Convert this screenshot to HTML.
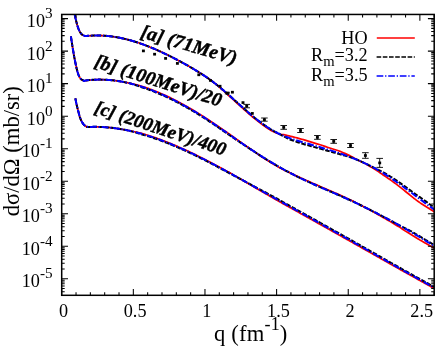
<!DOCTYPE html>
<html><head><meta charset="utf-8"><title>chart</title>
<style>html,body{margin:0;padding:0;background:#fff;}svg{display:block;will-change:transform;}text{font-family:"Liberation Serif",serif;fill:#000;}</style></head><body>
<svg width="443" height="354" viewBox="0 0 443 354">
<rect x="0" y="0" width="443" height="354" fill="#ffffff"/>
<defs><clipPath id="pc"><rect x="61.7" y="14.45" width="372.5" height="280.85"/></clipPath></defs>
<g clip-path="url(#pc)" fill="none" stroke-linejoin="round">
<path d="M74.70 14.00 L74.83 14.76 L74.96 15.51 L75.11 16.27 L75.26 17.03 L75.42 17.78 L75.58 18.54 L75.75 19.30 L75.93 20.06 L76.11 20.81 L76.29 21.57 L76.48 22.33 L76.68 23.08 L76.89 23.84 L77.10 24.60 L77.33 25.35 L77.57 26.11 L77.82 26.87 L78.08 27.62 L78.35 28.38 L78.64 29.14 L78.95 29.89 L79.30 30.65 L79.68 31.41 L80.11 32.17 L80.57 32.92 L81.12 33.68 L81.84 34.44 L82.91 35.19 L84.90 35.95 L86.49 36.02 L88.09 35.87 L89.68 35.74 L91.28 35.64 L92.87 35.56 L94.47 35.51 L96.06 35.48 L97.66 35.48 L99.25 35.50 L100.85 35.54 L102.44 35.61 L104.04 35.70 L105.63 35.82 L107.23 35.96 L108.82 36.12 L110.42 36.30 L112.01 36.51 L113.61 36.73 L115.20 36.98 L116.80 37.25 L118.39 37.54 L119.99 37.85 L121.58 38.18 L123.18 38.53 L124.77 38.90 L126.37 39.28 L127.96 39.69 L129.56 40.12 L131.15 40.56 L132.75 41.02 L134.34 41.50 L135.94 42.00 L137.53 42.51 L139.13 43.04 L140.72 43.59 L142.32 44.15 L143.91 44.73 L145.51 45.32 L147.10 45.93 L148.70 46.56 L150.29 47.20 L151.89 47.85 L153.48 48.52 L155.08 49.20 L156.67 49.89 L158.27 50.60 L159.86 51.32 L161.46 52.05 L163.05 52.80 L164.65 53.55 L166.24 54.32 L167.84 55.10 L169.43 55.89 L171.03 56.69 L172.62 57.50 L174.22 58.32 L175.81 59.15 L177.41 59.99 L179.00 60.84 L180.60 61.70 L182.19 62.57 L183.79 63.44 L185.38 64.32 L186.98 65.21 L188.57 66.11 L190.17 67.02 L191.76 67.94 L193.36 68.88 L194.95 69.83 L196.55 70.79 L198.14 71.77 L199.74 72.77 L201.33 73.78 L202.93 74.82 L204.52 75.87 L206.12 76.95 L207.71 78.05 L209.31 79.18 L210.90 80.33 L212.50 81.51 L214.09 82.72 L215.69 83.98 L217.28 85.32 L218.88 86.69 L220.47 88.08 L222.07 89.49 L223.66 90.92 L225.26 92.37 L226.85 93.83 L228.45 95.31 L230.04 96.80 L231.64 98.24 L233.23 99.68 L234.83 101.13 L236.42 102.58 L238.02 104.03 L239.61 105.48 L241.21 106.92 L242.80 108.36 L244.40 109.79 L245.99 111.21 L247.59 112.61 L249.18 114.00 L250.78 115.38 L252.37 116.73 L253.97 118.06 L255.56 119.36 L257.16 120.65 L258.75 121.90 L260.35 123.13 L261.94 124.33 L263.54 125.49 L265.13 126.63 L266.73 127.71 L268.32 128.77 L269.92 129.78 L271.51 130.70 L273.11 131.46 L274.70 132.18 L276.30 132.86 L277.89 133.49 L279.49 134.08 L281.08 134.36 L282.68 134.49 L284.27 134.71 L285.87 135.12 L287.46 135.51 L289.06 135.87 L290.65 136.26 L292.25 136.69 L293.84 137.11 L295.44 137.51 L297.03 137.93 L298.63 138.37 L300.22 138.81 L301.82 139.23 L303.41 139.69 L305.01 140.17 L306.60 140.64 L308.20 141.10 L309.79 141.60 L311.39 142.12 L312.98 142.63 L314.58 143.14 L316.17 143.61 L317.77 144.08 L319.36 144.54 L320.96 145.00 L322.55 145.54 L324.15 146.08 L325.74 146.64 L327.34 147.19 L328.93 147.70 L330.53 148.22 L332.12 148.73 L333.72 149.26 L335.31 149.77 L336.91 150.28 L338.50 150.81 L340.10 151.35 L341.69 152.02 L343.29 152.70 L344.88 153.39 L346.48 154.10 L348.07 154.87 L349.67 155.64 L351.26 156.43 L352.86 157.27 L354.45 158.19 L356.05 159.13 L357.64 160.03 L359.24 160.75 L360.83 161.49 L362.43 162.24 L364.02 163.02 L365.62 163.86 L367.21 164.78 L368.81 165.71 L370.40 166.66 L372.00 167.63 L373.59 168.60 L375.19 169.59 L376.78 170.61 L378.38 171.66 L379.97 172.75 L381.57 173.85 L383.16 174.98 L384.76 176.05 L386.35 177.11 L387.95 178.19 L389.54 179.29 L391.14 180.42 L392.73 181.57 L394.33 182.74 L395.92 183.92 L397.52 185.16 L399.11 186.41 L400.71 187.68 L402.30 188.95 L403.90 190.20 L405.49 191.47 L407.09 192.74 L408.68 194.02 L410.28 195.34 L411.87 196.67 L413.47 197.96 L415.06 199.15 L416.66 200.34 L418.25 201.53 L419.85 202.65 L421.44 203.68 L423.04 204.72 L424.63 205.75 L426.23 206.77 L427.82 207.80 L429.42 208.82 L431.01 209.83 L432.61 210.81 L434.20 211.77" stroke="#ff0000" stroke-width="1.7"/>
<path d="M74.70 14.00 L74.83 14.76 L74.96 15.51 L75.11 16.27 L75.26 17.03 L75.42 17.78 L75.58 18.54 L75.75 19.30 L75.93 20.06 L76.11 20.81 L76.29 21.57 L76.48 22.33 L76.68 23.08 L76.89 23.84 L77.10 24.60 L77.33 25.35 L77.57 26.11 L77.82 26.87 L78.08 27.62 L78.35 28.38 L78.64 29.14 L78.95 29.89 L79.30 30.65 L79.68 31.41 L80.11 32.17 L80.57 32.92 L81.12 33.68 L81.84 34.44 L82.91 35.19 L84.90 35.95 L86.49 36.02 L88.09 35.87 L89.68 35.74 L91.28 35.64 L92.87 35.56 L94.47 35.51 L96.06 35.48 L97.66 35.48 L99.25 35.50 L100.85 35.54 L102.44 35.61 L104.04 35.70 L105.63 35.82 L107.23 35.96 L108.82 36.12 L110.42 36.30 L112.01 36.51 L113.61 36.73 L115.20 36.98 L116.80 37.25 L118.39 37.54 L119.99 37.85 L121.58 38.18 L123.18 38.53 L124.77 38.90 L126.37 39.28 L127.96 39.69 L129.56 40.12 L131.15 40.56 L132.75 41.02 L134.34 41.50 L135.94 42.00 L137.53 42.51 L139.13 43.04 L140.72 43.59 L142.32 44.15 L143.91 44.73 L145.51 45.32 L147.10 45.93 L148.70 46.56 L150.29 47.20 L151.89 47.85 L153.48 48.52 L155.08 49.20 L156.67 49.89 L158.27 50.60 L159.86 51.32 L161.46 52.05 L163.05 52.80 L164.65 53.55 L166.24 54.32 L167.84 55.10 L169.43 55.89 L171.03 56.69 L172.62 57.50 L174.22 58.32 L175.81 59.15 L177.41 59.99 L179.00 60.84 L180.60 61.70 L182.19 62.57 L183.79 63.44 L185.38 64.32 L186.98 65.21 L188.57 66.11 L190.17 67.02 L191.76 67.94 L193.36 68.88 L194.95 69.83 L196.55 70.79 L198.14 71.77 L199.74 72.77 L201.33 73.78 L202.93 74.82 L204.52 75.87 L206.12 76.95 L207.71 78.05 L209.31 79.18 L210.90 80.33 L212.50 81.51 L214.09 82.72 L215.69 83.95 L217.28 85.21 L218.88 86.51 L220.47 87.82 L222.07 89.16 L223.66 90.51 L225.26 91.89 L226.85 93.28 L228.45 94.68 L230.04 96.10 L231.64 97.52 L233.23 98.95 L234.83 100.39 L236.42 101.82 L238.02 103.26 L239.61 104.70 L241.21 106.13 L242.80 107.55 L244.40 108.97 L245.99 110.37 L247.59 111.76 L249.18 113.14 L250.78 114.50 L252.37 115.84 L253.97 117.15 L255.56 118.45 L257.16 119.71 L258.75 120.96 L260.35 122.17 L261.94 123.35 L263.54 124.51 L265.13 125.63 L266.73 126.71 L268.32 127.77 L269.92 128.78 L271.51 129.76 L273.11 130.70 L274.70 131.59 L276.30 132.44 L277.89 133.25 L279.49 134.02 L281.08 134.88 L282.68 135.78 L284.27 136.64 L285.87 137.47 L287.46 138.28 L289.06 139.05 L290.65 139.73 L292.25 140.30 L293.84 140.86 L295.44 141.40 L297.03 141.93 L298.63 142.46 L300.22 142.99 L301.82 143.51 L303.41 143.99 L305.01 144.45 L306.60 144.90 L308.20 145.36 L309.79 145.81 L311.39 146.26 L312.98 146.71 L314.58 147.15 L316.17 147.59 L317.77 148.03 L319.36 148.47 L320.96 148.91 L322.55 149.35 L324.15 149.79 L325.74 150.24 L327.34 150.70 L328.93 151.13 L330.53 151.57 L332.12 152.01 L333.72 152.46 L335.31 152.91 L336.91 153.38 L338.50 153.85 L340.10 154.32 L341.69 154.75 L343.29 155.18 L344.88 155.63 L346.48 156.08 L348.07 156.55 L349.67 157.03 L351.26 157.52 L352.86 158.07 L354.45 158.71 L356.05 159.35 L357.64 160.02 L359.24 160.70 L360.83 161.39 L362.43 162.11 L364.02 162.84 L365.62 163.58 L367.21 164.35 L368.81 165.13 L370.40 165.94 L372.00 166.76 L373.59 167.61 L375.19 168.46 L376.78 169.20 L378.38 169.96 L379.97 170.74 L381.57 171.55 L383.16 172.38 L384.76 173.25 L386.35 174.16 L387.95 175.08 L389.54 176.03 L391.14 177.00 L392.73 178.00 L394.33 179.01 L395.92 180.04 L397.52 181.14 L399.11 182.27 L400.71 183.40 L402.30 184.55 L403.90 185.70 L405.49 186.86 L407.09 188.03 L408.68 189.21 L410.28 190.39 L411.87 191.57 L413.47 192.76 L415.06 193.93 L416.66 195.01 L418.25 196.09 L419.85 197.18 L421.44 198.30 L423.04 199.41 L424.63 200.51 L426.23 201.67 L427.82 202.86 L429.42 204.05 L431.01 205.23 L432.61 206.40 L434.20 207.57" stroke="#000000" stroke-width="2.0" stroke-dasharray="4.6 1.6"/>
<path d="M74.70 14.00 L74.83 14.76 L74.96 15.51 L75.11 16.27 L75.26 17.03 L75.42 17.78 L75.58 18.54 L75.75 19.30 L75.93 20.06 L76.11 20.81 L76.29 21.57 L76.48 22.33 L76.68 23.08 L76.89 23.84 L77.10 24.60 L77.33 25.35 L77.57 26.11 L77.82 26.87 L78.08 27.62 L78.35 28.38 L78.64 29.14 L78.95 29.89 L79.30 30.65 L79.68 31.41 L80.11 32.17 L80.57 32.92 L81.12 33.68 L81.84 34.44 L82.91 35.19 L84.90 35.95 L86.49 36.02 L88.09 35.87 L89.68 35.74 L91.28 35.64 L92.87 35.56 L94.47 35.51 L96.06 35.48 L97.66 35.48 L99.25 35.50 L100.85 35.54 L102.44 35.61 L104.04 35.70 L105.63 35.82 L107.23 35.96 L108.82 36.12 L110.42 36.30 L112.01 36.51 L113.61 36.73 L115.20 36.98 L116.80 37.25 L118.39 37.54 L119.99 37.85 L121.58 38.18 L123.18 38.53 L124.77 38.90 L126.37 39.28 L127.96 39.69 L129.56 40.12 L131.15 40.56 L132.75 41.02 L134.34 41.50 L135.94 42.00 L137.53 42.51 L139.13 43.04 L140.72 43.59 L142.32 44.15 L143.91 44.73 L145.51 45.32 L147.10 45.93 L148.70 46.56 L150.29 47.20 L151.89 47.85 L153.48 48.52 L155.08 49.20 L156.67 49.89 L158.27 50.60 L159.86 51.32 L161.46 52.05 L163.05 52.80 L164.65 53.55 L166.24 54.32 L167.84 55.10 L169.43 55.89 L171.03 56.69 L172.62 57.50 L174.22 58.32 L175.81 59.15 L177.41 59.99 L179.00 60.84 L180.60 61.70 L182.19 62.57 L183.79 63.44 L185.38 64.32 L186.98 65.21 L188.57 66.11 L190.17 67.02 L191.76 67.94 L193.36 68.88 L194.95 69.83 L196.55 70.79 L198.14 71.77 L199.74 72.77 L201.33 73.78 L202.93 74.82 L204.52 75.87 L206.12 76.95 L207.71 78.05 L209.31 79.18 L210.90 80.33 L212.50 81.51 L214.09 82.72 L215.69 83.95 L217.28 85.21 L218.88 86.51 L220.47 87.82 L222.07 89.16 L223.66 90.51 L225.26 91.89 L226.85 93.28 L228.45 94.68 L230.04 96.10 L231.64 97.52 L233.23 98.95 L234.83 100.39 L236.42 101.82 L238.02 103.26 L239.61 104.70 L241.21 106.13 L242.80 107.55 L244.40 108.97 L245.99 110.37 L247.59 111.76 L249.18 113.14 L250.78 114.50 L252.37 115.84 L253.97 117.15 L255.56 118.45 L257.16 119.71 L258.75 120.96 L260.35 122.17 L261.94 123.35 L263.54 124.51 L265.13 125.63 L266.73 126.71 L268.32 127.77 L269.92 128.78 L271.51 129.76 L273.11 130.70 L274.70 131.59 L276.30 132.44 L277.89 133.25 L279.49 134.02 L281.08 134.74 L282.68 135.43 L284.27 136.08 L285.87 136.70 L287.46 137.30 L289.06 137.86 L290.65 138.41 L292.25 138.94 L293.84 139.46 L295.44 139.96 L297.03 140.46 L298.63 140.95 L300.22 141.44 L301.82 141.92 L303.41 142.39 L305.01 142.87 L306.60 143.34 L308.20 143.80 L309.79 144.27 L311.39 144.73 L312.98 145.19 L314.58 145.65 L316.17 146.11 L317.77 146.58 L319.36 147.04 L320.96 147.50 L322.55 147.97 L324.15 148.44 L325.74 148.92 L327.34 149.39 L328.93 149.88 L330.53 150.37 L332.12 150.86 L333.72 151.36 L335.31 151.87 L336.91 152.38 L338.50 152.91 L340.10 153.44 L341.69 153.98 L343.29 154.53 L344.88 155.09 L346.48 155.66 L348.07 156.25 L349.67 156.84 L351.26 157.45 L352.86 158.07 L354.45 158.71 L356.05 159.35 L357.64 160.02 L359.24 160.70 L360.83 161.39 L362.43 162.11 L364.02 162.84 L365.62 163.58 L367.21 164.35 L368.81 165.13 L370.40 165.94 L372.00 166.76 L373.59 167.61 L375.19 168.47 L376.78 169.36 L378.38 170.27 L379.97 171.20 L381.57 172.15 L383.16 173.13 L384.76 174.12 L386.35 175.13 L387.95 176.16 L389.54 177.20 L391.14 178.26 L392.73 179.34 L394.33 180.43 L395.92 181.53 L397.52 182.64 L399.11 183.77 L400.71 184.90 L402.30 186.05 L403.90 187.20 L405.49 188.36 L407.09 189.53 L408.68 190.71 L410.28 191.89 L411.87 193.07 L413.47 194.26 L415.06 195.45 L416.66 196.64 L418.25 197.83 L419.85 199.02 L421.44 200.21 L423.04 201.40 L424.63 202.58 L426.23 203.76 L427.82 204.94 L429.42 206.11 L431.01 207.27 L432.61 208.43 L434.20 209.58" stroke="#0000ff" stroke-width="2.0" stroke-dasharray="6.7 1.8 1.3 1.8"/>
<path d="M70.90 36.30 L71.13 37.84 L71.36 39.38 L71.59 40.92 L71.83 42.47 L72.07 44.01 L72.31 45.55 L72.56 47.09 L72.81 48.63 L73.07 50.17 L73.32 51.71 L73.59 53.26 L73.85 54.80 L74.13 56.34 L74.42 57.88 L74.72 59.42 L75.03 60.96 L75.34 62.50 L75.67 64.04 L76.01 65.59 L76.34 67.13 L76.69 68.67 L77.06 70.21 L77.49 71.75 L77.96 73.29 L78.51 74.83 L79.19 76.38 L80.01 77.92 L81.25 79.46 L84.20 81.00 L85.80 80.48 L87.40 80.29 L88.99 80.12 L90.59 79.98 L92.19 79.86 L93.79 79.76 L95.39 79.69 L96.99 79.64 L98.58 79.61 L100.18 79.61 L101.78 79.63 L103.38 79.67 L104.98 79.73 L106.57 79.81 L108.17 79.92 L109.77 80.05 L111.37 80.19 L112.97 80.36 L114.57 80.55 L116.16 80.76 L117.76 80.99 L119.36 81.24 L120.96 81.51 L122.56 81.80 L124.15 82.11 L125.75 82.43 L127.35 82.78 L128.95 83.15 L130.55 83.50 L132.15 83.82 L133.74 84.16 L135.34 84.52 L136.94 84.89 L138.54 85.28 L140.14 85.70 L141.73 86.20 L143.33 86.72 L144.93 87.26 L146.53 87.81 L148.13 88.38 L149.73 88.96 L151.32 89.56 L152.92 90.18 L154.52 90.81 L156.12 91.45 L157.72 92.11 L159.31 92.78 L160.91 93.47 L162.51 94.17 L164.11 94.89 L165.71 95.61 L167.31 96.36 L168.90 97.11 L170.50 97.88 L172.10 98.67 L173.70 99.46 L175.30 100.27 L176.89 101.09 L178.49 101.93 L180.09 102.78 L181.69 103.64 L183.29 104.51 L184.88 105.40 L186.48 106.29 L188.08 107.20 L189.68 108.13 L191.28 109.06 L192.88 110.00 L194.47 110.96 L196.07 111.93 L197.67 112.91 L199.27 113.90 L200.87 114.90 L202.46 115.91 L204.06 116.94 L205.66 117.97 L207.26 119.01 L208.86 120.07 L210.46 121.13 L212.05 122.20 L213.65 123.27 L215.25 124.35 L216.85 125.44 L218.45 126.53 L220.04 127.63 L221.64 128.73 L223.24 129.84 L224.84 130.94 L226.44 132.05 L228.04 133.17 L229.63 134.28 L231.23 135.42 L232.83 136.56 L234.43 137.71 L236.03 138.85 L237.62 139.99 L239.22 141.13 L240.82 142.26 L242.42 143.39 L244.02 144.52 L245.62 145.64 L247.21 146.76 L248.81 147.87 L250.41 148.97 L252.01 150.07 L253.61 151.16 L255.20 152.24 L256.80 153.37 L258.40 154.48 L260.00 155.58 L261.60 156.68 L263.20 157.77 L264.79 158.85 L266.39 159.85 L267.99 160.83 L269.59 161.81 L271.19 162.77 L272.78 163.73 L274.38 164.67 L275.98 165.61 L277.58 166.53 L279.18 167.45 L280.78 168.32 L282.37 169.14 L283.97 169.94 L285.57 170.74 L287.17 171.52 L288.77 172.30 L290.36 173.07 L291.96 173.85 L293.56 174.63 L295.16 175.39 L296.76 176.14 L298.36 176.88 L299.95 177.61 L301.55 178.33 L303.15 179.04 L304.75 179.74 L306.35 180.43 L307.94 181.12 L309.54 181.80 L311.14 182.50 L312.74 183.22 L314.34 183.93 L315.94 184.63 L317.53 185.33 L319.13 186.03 L320.73 186.72 L322.33 187.42 L323.93 188.11 L325.52 188.80 L327.12 189.48 L328.72 190.17 L330.32 190.86 L331.92 191.55 L333.52 192.24 L335.11 192.94 L336.71 193.63 L338.31 194.33 L339.91 195.04 L341.51 195.74 L343.10 196.46 L344.70 197.18 L346.30 197.94 L347.90 198.71 L349.50 199.50 L351.09 200.28 L352.69 201.08 L354.29 201.87 L355.89 202.68 L357.49 203.48 L359.09 204.30 L360.68 205.11 L362.28 205.94 L363.88 206.76 L365.48 207.61 L367.08 208.47 L368.67 209.34 L370.27 210.22 L371.87 211.10 L373.47 211.99 L375.07 212.88 L376.67 213.78 L378.26 214.68 L379.86 215.59 L381.46 216.50 L383.06 217.42 L384.66 218.34 L386.25 219.26 L387.85 220.20 L389.45 221.13 L391.05 222.08 L392.65 223.02 L394.25 223.98 L395.84 224.94 L397.44 225.90 L399.04 226.87 L400.64 227.89 L402.24 228.98 L403.83 230.07 L405.43 231.13 L407.03 232.09 L408.63 233.06 L410.23 234.02 L411.83 235.00 L413.42 235.97 L415.02 236.95 L416.62 237.93 L418.22 238.91 L419.82 239.90 L421.41 240.83 L423.01 241.75 L424.61 242.67 L426.21 243.60 L427.81 244.53 L429.41 245.41 L431.00 246.28 L432.60 247.15 L434.20 248.03" stroke="#ff0000" stroke-width="1.7"/>
<path d="M70.90 36.30 L71.13 37.84 L71.36 39.38 L71.59 40.92 L71.83 42.47 L72.07 44.01 L72.31 45.55 L72.56 47.09 L72.81 48.63 L73.07 50.17 L73.32 51.71 L73.59 53.26 L73.85 54.80 L74.13 56.34 L74.42 57.88 L74.72 59.42 L75.03 60.96 L75.34 62.50 L75.67 64.04 L76.01 65.59 L76.34 67.13 L76.69 68.67 L77.06 70.21 L77.49 71.75 L77.96 73.29 L78.51 74.83 L79.19 76.38 L80.01 77.92 L81.25 79.46 L84.20 81.00 L85.80 80.48 L87.40 80.29 L88.99 80.12 L90.59 79.98 L92.19 79.86 L93.79 79.76 L95.39 79.69 L96.99 79.64 L98.58 79.61 L100.18 79.61 L101.78 79.63 L103.38 79.67 L104.98 79.73 L106.57 79.81 L108.17 79.92 L109.77 80.05 L111.37 80.19 L112.97 80.36 L114.57 80.55 L116.16 80.76 L117.76 80.99 L119.36 81.24 L120.96 81.51 L122.56 81.80 L124.15 82.11 L125.75 82.43 L127.35 82.78 L128.95 83.15 L130.55 83.56 L132.15 84.04 L133.74 84.53 L135.34 85.05 L136.94 85.58 L138.54 86.13 L140.14 86.70 L141.73 87.20 L143.33 87.72 L144.93 88.26 L146.53 88.81 L148.13 89.38 L149.73 89.96 L151.32 90.56 L152.92 91.18 L154.52 91.81 L156.12 92.45 L157.72 93.11 L159.31 93.78 L160.91 94.47 L162.51 95.17 L164.11 95.89 L165.71 96.61 L167.31 97.36 L168.90 98.11 L170.50 98.88 L172.10 99.67 L173.70 100.46 L175.30 101.27 L176.89 102.09 L178.49 102.93 L180.09 103.78 L181.69 104.64 L183.29 105.51 L184.88 106.40 L186.48 107.29 L188.08 108.20 L189.68 109.13 L191.28 110.06 L192.88 111.00 L194.47 111.96 L196.07 112.93 L197.67 113.91 L199.27 114.90 L200.87 115.90 L202.46 116.91 L204.06 117.94 L205.66 118.97 L207.26 120.01 L208.86 121.07 L210.46 122.13 L212.05 123.20 L213.65 124.27 L215.25 125.35 L216.85 126.44 L218.45 127.53 L220.04 128.63 L221.64 129.73 L223.24 130.84 L224.84 131.94 L226.44 133.05 L228.04 134.17 L229.63 135.28 L231.23 136.37 L232.83 137.45 L234.43 138.53 L236.03 139.61 L237.62 140.68 L239.22 141.76 L240.82 142.83 L242.42 143.90 L244.02 144.96 L245.62 146.02 L247.21 147.07 L248.81 148.12 L250.41 149.16 L252.01 150.19 L253.61 151.21 L255.20 152.23 L256.80 153.28 L258.40 154.31 L260.00 155.33 L261.60 156.35 L263.20 157.36 L264.79 158.36 L266.39 159.35 L267.99 160.33 L269.59 161.31 L271.19 162.27 L272.78 163.23 L274.38 164.17 L275.98 165.11 L277.58 166.03 L279.18 166.95 L280.78 167.86 L282.37 168.75 L283.97 169.64 L285.57 170.52 L287.17 171.38 L288.77 172.24 L290.36 173.08 L291.96 173.91 L293.56 174.73 L295.16 175.54 L296.76 176.34 L298.36 177.13 L299.95 177.90 L301.55 178.67 L303.15 179.43 L304.75 180.18 L306.35 180.92 L307.94 181.65 L309.54 182.38 L311.14 183.10 L312.74 183.82 L314.34 184.53 L315.94 185.23 L317.53 185.93 L319.13 186.63 L320.73 187.32 L322.33 188.02 L323.93 188.71 L325.52 189.40 L327.12 190.08 L328.72 190.77 L330.32 191.46 L331.92 192.15 L333.52 192.84 L335.11 193.54 L336.71 194.23 L338.31 194.93 L339.91 195.64 L341.51 196.34 L343.10 197.06 L344.70 197.78 L346.30 198.50 L347.90 199.23 L349.50 199.96 L351.09 200.70 L352.69 201.44 L354.29 202.19 L355.89 202.95 L357.49 203.71 L359.09 204.47 L360.68 205.24 L362.28 206.02 L363.88 206.80 L365.48 207.58 L367.08 208.37 L368.67 209.17 L370.27 209.97 L371.87 210.77 L373.47 211.58 L375.07 212.40 L376.67 213.22 L378.26 214.04 L379.86 214.87 L381.46 215.71 L383.06 216.55 L384.66 217.39 L386.25 218.24 L387.85 219.10 L389.45 219.96 L391.05 220.82 L392.65 221.69 L394.25 222.57 L395.84 223.45 L397.44 224.33 L399.04 225.22 L400.64 226.06 L402.24 226.83 L403.83 227.61 L405.43 228.39 L407.03 229.17 L408.63 229.96 L410.23 230.77 L411.83 231.70 L413.42 232.63 L415.02 233.57 L416.62 234.51 L418.22 235.46 L419.82 236.41 L421.41 237.36 L423.01 238.32 L424.61 239.29 L426.21 240.26 L427.81 241.23 L429.41 242.21 L431.00 243.19 L432.60 244.18 L434.20 245.17" stroke="#000000" stroke-width="2.0" stroke-dasharray="4.6 1.6"/>
<path d="M70.90 36.30 L71.13 37.84 L71.36 39.38 L71.59 40.92 L71.83 42.47 L72.07 44.01 L72.31 45.55 L72.56 47.09 L72.81 48.63 L73.07 50.17 L73.32 51.71 L73.59 53.26 L73.85 54.80 L74.13 56.34 L74.42 57.88 L74.72 59.42 L75.03 60.96 L75.34 62.50 L75.67 64.04 L76.01 65.59 L76.34 67.13 L76.69 68.67 L77.06 70.21 L77.49 71.75 L77.96 73.29 L78.51 74.83 L79.19 76.38 L80.01 77.92 L81.25 79.46 L84.20 81.00 L85.80 80.48 L87.40 80.29 L88.99 80.12 L90.59 79.98 L92.19 79.86 L93.79 79.76 L95.39 79.69 L96.99 79.64 L98.58 79.61 L100.18 79.61 L101.78 79.63 L103.38 79.67 L104.98 79.73 L106.57 79.81 L108.17 79.92 L109.77 80.05 L111.37 80.19 L112.97 80.36 L114.57 80.55 L116.16 80.76 L117.76 80.99 L119.36 81.24 L120.96 81.51 L122.56 81.80 L124.15 82.11 L125.75 82.43 L127.35 82.78 L128.95 83.15 L130.55 83.53 L132.15 83.93 L133.74 84.35 L135.34 84.78 L136.94 85.24 L138.54 85.71 L140.14 86.20 L141.73 86.70 L143.33 87.22 L144.93 87.76 L146.53 88.31 L148.13 88.88 L149.73 89.46 L151.32 90.06 L152.92 90.68 L154.52 91.31 L156.12 91.95 L157.72 92.61 L159.31 93.28 L160.91 93.97 L162.51 94.67 L164.11 95.39 L165.71 96.11 L167.31 96.86 L168.90 97.61 L170.50 98.38 L172.10 99.17 L173.70 99.96 L175.30 100.77 L176.89 101.59 L178.49 102.43 L180.09 103.28 L181.69 104.14 L183.29 105.01 L184.88 105.90 L186.48 106.79 L188.08 107.70 L189.68 108.63 L191.28 109.56 L192.88 110.50 L194.47 111.46 L196.07 112.43 L197.67 113.41 L199.27 114.40 L200.87 115.40 L202.46 116.41 L204.06 117.44 L205.66 118.47 L207.26 119.51 L208.86 120.57 L210.46 121.63 L212.05 122.70 L213.65 123.77 L215.25 124.85 L216.85 125.94 L218.45 127.03 L220.04 128.13 L221.64 129.23 L223.24 130.34 L224.84 131.44 L226.44 132.55 L228.04 133.67 L229.63 134.78 L231.23 135.89 L232.83 137.01 L234.43 138.12 L236.03 139.23 L237.62 140.34 L239.22 141.44 L240.82 142.55 L242.42 143.65 L244.02 144.74 L245.62 145.83 L247.21 146.92 L248.81 147.99 L250.41 149.07 L252.01 150.13 L253.61 151.19 L255.20 152.23 L256.80 153.28 L258.40 154.31 L260.00 155.33 L261.60 156.35 L263.20 157.36 L264.79 158.36 L266.39 159.35 L267.99 160.33 L269.59 161.31 L271.19 162.27 L272.78 163.23 L274.38 164.17 L275.98 165.11 L277.58 166.03 L279.18 166.95 L280.78 167.86 L282.37 168.75 L283.97 169.64 L285.57 170.52 L287.17 171.38 L288.77 172.24 L290.36 173.08 L291.96 173.91 L293.56 174.73 L295.16 175.54 L296.76 176.34 L298.36 177.13 L299.95 177.90 L301.55 178.67 L303.15 179.43 L304.75 180.18 L306.35 180.92 L307.94 181.65 L309.54 182.38 L311.14 183.10 L312.74 183.82 L314.34 184.53 L315.94 185.23 L317.53 185.93 L319.13 186.63 L320.73 187.32 L322.33 188.02 L323.93 188.71 L325.52 189.40 L327.12 190.08 L328.72 190.77 L330.32 191.46 L331.92 192.15 L333.52 192.84 L335.11 193.54 L336.71 194.23 L338.31 194.93 L339.91 195.64 L341.51 196.34 L343.10 197.06 L344.70 197.78 L346.30 198.50 L347.90 199.23 L349.50 199.96 L351.09 200.70 L352.69 201.44 L354.29 202.19 L355.89 202.95 L357.49 203.71 L359.09 204.47 L360.68 205.24 L362.28 206.02 L363.88 206.80 L365.48 207.58 L367.08 208.37 L368.67 209.17 L370.27 209.97 L371.87 210.77 L373.47 211.58 L375.07 212.40 L376.67 213.22 L378.26 214.04 L379.86 214.87 L381.46 215.71 L383.06 216.55 L384.66 217.39 L386.25 218.24 L387.85 219.10 L389.45 219.96 L391.05 220.82 L392.65 221.69 L394.25 222.57 L395.84 223.45 L397.44 224.33 L399.04 225.22 L400.64 226.11 L402.24 227.01 L403.83 227.91 L405.43 228.82 L407.03 229.73 L408.63 230.65 L410.23 231.57 L411.83 232.50 L413.42 233.43 L415.02 234.37 L416.62 235.31 L418.22 236.26 L419.82 237.21 L421.41 238.16 L423.01 239.12 L424.61 240.09 L426.21 241.06 L427.81 242.03 L429.41 243.01 L431.00 243.99 L432.60 244.98 L434.20 245.97" stroke="#0000ff" stroke-width="2.0" stroke-dasharray="6.7 1.8 1.3 1.8"/>
<path d="M75.40 98.40 L75.57 99.38 L75.75 100.36 L75.94 101.34 L76.13 102.32 L76.33 103.30 L76.54 104.28 L76.76 105.26 L76.99 106.23 L77.23 107.21 L77.48 108.19 L77.73 109.17 L77.99 110.15 L78.25 111.13 L78.51 112.11 L78.75 113.09 L78.99 114.07 L79.24 115.05 L79.51 116.03 L79.80 117.01 L80.14 117.99 L80.53 118.97 L80.97 119.94 L81.46 120.92 L81.99 121.90 L82.55 122.88 L83.17 123.86 L83.96 124.84 L85.09 125.82 L86.70 126.80 L88.29 127.02 L89.87 126.95 L91.46 126.90 L93.05 126.87 L94.63 126.86 L96.22 126.86 L97.81 126.88 L99.39 126.92 L100.98 126.98 L102.57 127.05 L104.15 127.15 L105.74 127.25 L107.33 127.38 L108.91 127.52 L110.50 127.68 L112.09 127.85 L113.67 128.04 L115.26 128.25 L116.85 128.47 L118.44 128.70 L120.02 128.96 L121.61 129.22 L123.20 129.50 L124.78 129.80 L126.37 130.11 L127.96 130.44 L129.54 130.78 L131.13 131.09 L132.72 131.39 L134.30 131.71 L135.89 132.04 L137.48 132.38 L139.06 132.74 L140.65 133.14 L142.24 133.59 L143.82 134.05 L145.41 134.52 L147.00 135.00 L148.58 135.50 L150.17 136.01 L151.76 136.53 L153.34 137.07 L154.93 137.61 L156.52 138.16 L158.10 138.73 L159.69 139.31 L161.28 139.89 L162.86 140.49 L164.45 141.10 L166.04 141.72 L167.62 142.34 L169.21 142.98 L170.80 143.63 L172.38 144.28 L173.97 144.95 L175.56 145.62 L177.15 146.31 L178.73 147.00 L180.32 147.70 L181.91 148.41 L183.49 149.12 L185.08 149.85 L186.67 150.58 L188.25 151.32 L189.84 152.07 L191.43 152.82 L193.01 153.58 L194.60 154.35 L196.19 155.13 L197.77 155.91 L199.36 156.69 L200.95 157.49 L202.53 158.29 L204.12 159.09 L205.71 159.90 L207.29 160.72 L208.88 161.54 L210.47 162.37 L212.05 163.20 L213.64 164.03 L215.23 164.88 L216.81 165.72 L218.40 166.57 L219.99 167.42 L221.57 168.28 L223.16 169.14 L224.75 170.00 L226.33 170.87 L227.92 171.74 L229.51 172.61 L231.09 173.52 L232.68 174.44 L234.27 175.37 L235.86 176.29 L237.44 177.23 L239.03 178.16 L240.62 179.09 L242.20 180.03 L243.79 180.96 L245.38 181.90 L246.96 182.84 L248.55 183.78 L250.14 184.71 L251.72 185.64 L253.31 186.56 L254.90 187.49 L256.48 188.41 L258.07 189.33 L259.66 190.26 L261.24 191.18 L262.83 192.10 L264.42 193.02 L266.00 193.94 L267.59 194.86 L269.18 195.78 L270.76 196.70 L272.35 197.62 L273.94 198.54 L275.52 199.45 L277.11 200.34 L278.70 201.23 L280.28 202.11 L281.87 203.00 L283.46 203.89 L285.04 204.78 L286.63 205.66 L288.22 206.55 L289.81 207.44 L291.39 208.32 L292.98 209.21 L294.57 210.10 L296.15 210.98 L297.74 211.87 L299.33 212.76 L300.91 213.64 L302.50 214.53 L304.09 215.41 L305.67 216.30 L307.26 217.19 L308.85 218.07 L310.43 218.96 L312.02 219.85 L313.61 220.73 L315.19 221.62 L316.78 222.51 L318.37 223.40 L319.95 224.29 L321.54 225.17 L323.13 226.06 L324.71 226.95 L326.30 227.84 L327.89 228.73 L329.47 229.62 L331.06 230.51 L332.65 231.40 L334.23 232.30 L335.82 233.19 L337.41 234.08 L338.99 234.98 L340.58 235.87 L342.17 236.76 L343.75 237.66 L345.34 238.55 L346.93 239.45 L348.52 240.34 L350.10 241.23 L351.69 242.12 L353.28 243.02 L354.86 243.91 L356.45 244.81 L358.04 245.70 L359.62 246.60 L361.21 247.50 L362.80 248.39 L364.38 249.29 L365.97 250.19 L367.56 251.08 L369.14 251.98 L370.73 252.88 L372.32 253.78 L373.90 254.68 L375.49 255.57 L377.08 256.47 L378.66 257.37 L380.25 258.27 L381.84 259.16 L383.42 260.06 L385.01 260.96 L386.60 261.86 L388.18 262.75 L389.77 263.65 L391.36 264.54 L392.94 265.44 L394.53 266.33 L396.12 267.23 L397.70 268.12 L399.29 269.01 L400.88 269.90 L402.46 270.79 L404.05 271.68 L405.64 272.57 L407.23 273.46 L408.81 274.35 L410.40 275.23 L411.99 276.12 L413.57 277.00 L415.16 277.88 L416.75 278.76 L418.33 279.64 L419.92 280.52 L421.51 281.40 L423.09 282.28 L424.68 283.15 L426.27 284.03 L427.85 284.90 L429.44 285.77 L431.03 286.64 L432.61 287.51 L434.20 288.38" stroke="#ff0000" stroke-width="1.7"/>
<path d="M75.40 98.40 L75.57 99.38 L75.75 100.36 L75.94 101.34 L76.13 102.32 L76.33 103.30 L76.54 104.28 L76.76 105.26 L76.99 106.23 L77.23 107.21 L77.48 108.19 L77.73 109.17 L77.99 110.15 L78.25 111.13 L78.51 112.11 L78.75 113.09 L78.99 114.07 L79.24 115.05 L79.51 116.03 L79.80 117.01 L80.14 117.99 L80.53 118.97 L80.97 119.94 L81.46 120.92 L81.99 121.90 L82.55 122.88 L83.17 123.86 L83.96 124.84 L85.09 125.82 L86.70 126.80 L88.29 127.02 L89.87 126.95 L91.46 126.90 L93.05 126.87 L94.63 126.86 L96.22 126.86 L97.81 126.88 L99.39 126.92 L100.98 126.98 L102.57 127.05 L104.15 127.15 L105.74 127.25 L107.33 127.38 L108.91 127.52 L110.50 127.68 L112.09 127.85 L113.67 128.04 L115.26 128.25 L116.85 128.47 L118.44 128.70 L120.02 128.96 L121.61 129.22 L123.20 129.50 L124.78 129.80 L126.37 130.11 L127.96 130.44 L129.54 130.78 L131.13 131.19 L132.72 131.63 L134.30 132.09 L135.89 132.57 L137.48 133.06 L139.06 133.56 L140.65 134.04 L142.24 134.48 L143.82 134.94 L145.41 135.41 L147.00 135.89 L148.58 136.38 L150.17 136.89 L151.76 137.41 L153.34 137.94 L154.93 138.48 L156.52 139.03 L158.10 139.59 L159.69 140.16 L161.28 140.75 L162.86 141.34 L164.45 141.94 L166.04 142.56 L167.62 143.18 L169.21 143.82 L170.80 144.46 L172.38 145.11 L173.97 145.77 L175.56 146.45 L177.15 147.13 L178.73 147.81 L180.32 148.51 L181.91 149.22 L183.49 149.93 L185.08 150.65 L186.67 151.38 L188.25 152.11 L189.84 152.86 L191.43 153.61 L193.01 154.37 L194.60 155.13 L196.19 155.90 L197.77 156.68 L199.36 157.46 L200.95 158.25 L202.53 159.05 L204.12 159.85 L205.71 160.66 L207.29 161.47 L208.88 162.29 L210.47 163.11 L212.05 163.94 L213.64 164.77 L215.23 165.61 L216.81 166.45 L218.40 167.29 L219.99 168.14 L221.57 169.00 L223.16 169.85 L224.75 170.71 L226.33 171.58 L227.92 172.44 L229.51 173.31 L231.09 174.15 L232.68 174.98 L234.27 175.81 L235.86 176.64 L237.44 177.48 L239.03 178.32 L240.62 179.15 L242.20 179.99 L243.79 180.83 L245.38 181.68 L246.96 182.52 L248.55 183.36 L250.14 184.21 L251.72 185.06 L253.31 185.92 L254.90 186.77 L256.48 187.62 L258.07 188.48 L259.66 189.33 L261.24 190.18 L262.83 191.04 L264.42 191.89 L266.00 192.74 L267.59 193.59 L269.18 194.44 L270.76 195.29 L272.35 196.14 L273.94 196.99 L275.52 197.85 L277.11 198.74 L278.70 199.62 L280.28 200.51 L281.87 201.40 L283.46 202.28 L285.04 203.17 L286.63 204.05 L288.22 204.94 L289.81 205.83 L291.39 206.71 L292.98 207.60 L294.57 208.48 L296.15 209.37 L297.74 210.25 L299.33 211.14 L300.91 212.02 L302.50 212.91 L304.09 213.79 L305.67 214.68 L307.26 215.56 L308.85 216.45 L310.43 217.33 L312.02 218.22 L313.61 219.10 L315.19 219.99 L316.78 220.88 L318.37 221.76 L319.95 222.65 L321.54 223.54 L323.13 224.42 L324.71 225.31 L326.30 226.20 L327.89 227.09 L329.47 227.98 L331.06 228.87 L332.65 229.76 L334.23 230.65 L335.82 231.54 L337.41 232.43 L338.99 233.32 L340.58 234.22 L342.17 235.11 L343.75 236.00 L345.34 236.90 L346.93 237.79 L348.52 238.69 L350.10 239.59 L351.69 240.48 L353.28 241.38 L354.86 242.28 L356.45 243.18 L358.04 244.08 L359.62 244.98 L361.21 245.88 L362.80 246.78 L364.38 247.68 L365.97 248.58 L367.56 249.48 L369.14 250.38 L370.73 251.29 L372.32 252.19 L373.90 253.09 L375.49 253.99 L377.08 254.89 L378.66 255.80 L380.25 256.70 L381.84 257.60 L383.42 258.50 L385.01 259.40 L386.60 260.30 L388.18 261.20 L389.77 262.10 L391.36 263.00 L392.94 263.90 L394.53 264.80 L396.12 265.70 L397.70 266.59 L399.29 267.49 L400.88 268.39 L402.46 269.28 L404.05 270.18 L405.64 271.07 L407.23 271.96 L408.81 272.85 L410.40 273.75 L411.99 274.64 L413.57 275.53 L415.16 276.41 L416.75 277.30 L418.33 278.19 L419.92 279.07 L421.51 279.95 L423.09 280.84 L424.68 281.72 L426.27 282.60 L427.85 283.47 L429.44 284.35 L431.03 285.23 L432.61 286.10 L434.20 286.97" stroke="#000000" stroke-width="2.0" stroke-dasharray="4.6 1.6"/>
<path d="M75.40 98.40 L75.57 99.38 L75.75 100.36 L75.94 101.34 L76.13 102.32 L76.33 103.30 L76.54 104.28 L76.76 105.26 L76.99 106.23 L77.23 107.21 L77.48 108.19 L77.73 109.17 L77.99 110.15 L78.25 111.13 L78.51 112.11 L78.75 113.09 L78.99 114.07 L79.24 115.05 L79.51 116.03 L79.80 117.01 L80.14 117.99 L80.53 118.97 L80.97 119.94 L81.46 120.92 L81.99 121.90 L82.55 122.88 L83.17 123.86 L83.96 124.84 L85.09 125.82 L86.70 126.80 L88.29 127.02 L89.87 126.95 L91.46 126.90 L93.05 126.87 L94.63 126.86 L96.22 126.86 L97.81 126.88 L99.39 126.92 L100.98 126.98 L102.57 127.05 L104.15 127.15 L105.74 127.25 L107.33 127.38 L108.91 127.52 L110.50 127.68 L112.09 127.85 L113.67 128.04 L115.26 128.25 L116.85 128.47 L118.44 128.70 L120.02 128.96 L121.61 129.22 L123.20 129.50 L124.78 129.80 L126.37 130.11 L127.96 130.44 L129.54 130.78 L131.13 131.13 L132.72 131.50 L134.30 131.88 L135.89 132.27 L137.48 132.68 L139.06 133.10 L140.65 133.54 L142.24 133.98 L143.82 134.44 L145.41 134.91 L147.00 135.40 L148.58 135.89 L150.17 136.40 L151.76 136.92 L153.34 137.45 L154.93 137.99 L156.52 138.55 L158.10 139.11 L159.69 139.68 L161.28 140.27 L162.86 140.87 L164.45 141.47 L166.04 142.09 L167.62 142.71 L169.21 143.35 L170.80 143.99 L172.38 144.65 L173.97 145.31 L175.56 145.99 L177.15 146.67 L178.73 147.36 L180.32 148.06 L181.91 148.76 L183.49 149.48 L185.08 150.20 L186.67 150.93 L188.25 151.67 L189.84 152.41 L191.43 153.17 L193.01 153.92 L194.60 154.69 L196.19 155.46 L197.77 156.24 L199.36 157.03 L200.95 157.82 L202.53 158.62 L204.12 159.42 L205.71 160.23 L207.29 161.05 L208.88 161.86 L210.47 162.69 L212.05 163.52 L213.64 164.35 L215.23 165.19 L216.81 166.03 L218.40 166.88 L219.99 167.73 L221.57 168.59 L223.16 169.45 L224.75 170.31 L226.33 171.17 L227.92 172.04 L229.51 172.91 L231.09 173.78 L232.68 174.66 L234.27 175.54 L235.86 176.42 L237.44 177.30 L239.03 178.19 L240.62 179.07 L242.20 179.96 L243.79 180.85 L245.38 181.74 L246.96 182.63 L248.55 183.52 L250.14 184.41 L251.72 185.30 L253.31 186.20 L254.90 187.09 L256.48 187.98 L258.07 188.87 L259.66 189.76 L261.24 190.65 L262.83 191.54 L264.42 192.43 L266.00 193.32 L267.59 194.21 L269.18 195.10 L270.76 195.99 L272.35 196.88 L273.94 197.76 L275.52 198.65 L277.11 199.54 L278.70 200.42 L280.28 201.31 L281.87 202.19 L283.46 203.08 L285.04 203.96 L286.63 204.85 L288.22 205.73 L289.81 206.62 L291.39 207.50 L292.98 208.38 L294.57 209.27 L296.15 210.15 L297.74 211.04 L299.33 211.92 L300.91 212.80 L302.50 213.69 L304.09 214.57 L305.67 215.46 L307.26 216.34 L308.85 217.23 L310.43 218.11 L312.02 218.99 L313.61 219.88 L315.19 220.76 L316.78 221.65 L318.37 222.54 L319.95 223.42 L321.54 224.31 L323.13 225.19 L324.71 226.08 L326.30 226.97 L327.89 227.86 L329.47 228.74 L331.06 229.63 L332.65 230.52 L334.23 231.41 L335.82 232.30 L337.41 233.19 L338.99 234.08 L340.58 234.98 L342.17 235.87 L343.75 236.76 L345.34 237.65 L346.93 238.55 L348.52 239.44 L350.10 240.34 L351.69 241.24 L353.28 242.13 L354.86 243.03 L356.45 243.93 L358.04 244.83 L359.62 245.73 L361.21 246.63 L362.80 247.53 L364.38 248.42 L365.97 249.33 L367.56 250.23 L369.14 251.13 L370.73 252.03 L372.32 252.93 L373.90 253.83 L375.49 254.73 L377.08 255.63 L378.66 256.53 L380.25 257.43 L381.84 258.33 L383.42 259.23 L385.01 260.13 L386.60 261.03 L388.18 261.93 L389.77 262.83 L391.36 263.73 L392.94 264.63 L394.53 265.52 L396.12 266.42 L397.70 267.32 L399.29 268.21 L400.88 269.11 L402.46 270.00 L404.05 270.90 L405.64 271.79 L407.23 272.68 L408.81 273.57 L410.40 274.46 L411.99 275.35 L413.57 276.24 L415.16 277.13 L416.75 278.01 L418.33 278.90 L419.92 279.78 L421.51 280.66 L423.09 281.54 L424.68 282.42 L426.27 283.30 L427.85 284.18 L429.44 285.06 L431.03 285.93 L432.61 286.80 L434.20 287.67" stroke="#0000ff" stroke-width="2.0" stroke-dasharray="6.7 1.8 1.3 1.8"/>
</g>
<g stroke="#000" stroke-width="0.9" fill="#000">
<rect x="141.95" y="49.55" width="2.9" height="2.7" stroke="none"/>
<rect x="153.15" y="52.85" width="2.9" height="2.7" stroke="none"/>
<rect x="164.15" y="57.05" width="2.9" height="2.7" stroke="none"/>
<rect x="175.95" y="62.05" width="2.9" height="2.7" stroke="none"/>
<rect x="197.35" y="73.45" width="2.9" height="2.7" stroke="none"/>
<rect x="208.95" y="79.05" width="2.9" height="2.7" stroke="none"/>
<rect x="218.55" y="84.85" width="2.9" height="2.7" stroke="none"/>
<rect x="225.95" y="91.75" width="2.9" height="2.7" stroke="none"/>
<path d="M227.40 92.30V93.90M224.80 92.30H230.00M224.80 93.90H230.00" fill="none"/>
<rect x="230.95" y="90.85" width="2.9" height="2.7" stroke="none"/>
<rect x="241.55" y="101.25" width="2.9" height="2.7" stroke="none"/>
<rect x="245.25" y="104.75" width="2.9" height="2.7" stroke="none"/>
<path d="M246.70 104.40V107.80M243.40 104.40H250.00M243.40 107.80H250.00" fill="none"/>
<rect x="250.85" y="112.05" width="2.9" height="2.7" stroke="none"/>
<rect x="262.95" y="118.25" width="2.9" height="2.7" stroke="none"/>
<path d="M264.40 118.00V121.20M261.10 118.00H267.70M261.10 121.20H267.70" fill="none"/>
<rect x="282.25" y="126.05" width="2.9" height="2.7" stroke="none"/>
<path d="M283.70 125.50V129.30M280.40 125.50H287.00M280.40 129.30H287.00" fill="none"/>
<rect x="299.05" y="129.15" width="2.9" height="2.7" stroke="none"/>
<path d="M300.50 128.50V132.50M297.20 128.50H303.80M297.20 132.50H303.80" fill="none"/>
<rect x="315.95" y="136.05" width="2.9" height="2.7" stroke="none"/>
<path d="M317.40 135.50V139.30M314.10 135.50H320.70M314.10 139.30H320.70" fill="none"/>
<rect x="332.25" y="140.05" width="2.9" height="2.7" stroke="none"/>
<path d="M333.70 139.50V143.30M330.40 139.50H337.00M330.40 143.30H337.00" fill="none"/>
<rect x="349.05" y="144.15" width="2.9" height="2.7" stroke="none"/>
<path d="M350.50 143.50V147.50M347.20 143.50H353.80M347.20 147.50H353.80" fill="none"/>
<rect x="363.95" y="154.15" width="2.9" height="2.7" stroke="none"/>
<path d="M365.40 152.70V158.30M362.10 152.70H368.70M362.10 158.30H368.70" fill="none"/>
<rect x="378.25" y="161.55" width="2.9" height="2.7" stroke="none"/>
<path d="M379.70 158.40V167.40M376.40 158.40H383.00M376.40 167.40H383.00" fill="none"/>
</g>
<rect x="61.7" y="14.45" width="372.5" height="280.85" fill="none" stroke="#000" stroke-width="1.5"/>
<path d="M61.70 295.3v-6.3M61.70 14.45v6.3M76.03 295.3v-3.0M76.03 14.45v3.0M90.35 295.3v-3.0M90.35 14.45v3.0M104.68 295.3v-3.0M104.68 14.45v3.0M119.01 295.3v-3.0M119.01 14.45v3.0M133.33 295.3v-6.3M133.33 14.45v6.3M147.66 295.3v-3.0M147.66 14.45v3.0M161.99 295.3v-3.0M161.99 14.45v3.0M176.32 295.3v-3.0M176.32 14.45v3.0M190.64 295.3v-3.0M190.64 14.45v3.0M204.97 295.3v-6.3M204.97 14.45v6.3M219.30 295.3v-3.0M219.30 14.45v3.0M233.62 295.3v-3.0M233.62 14.45v3.0M247.95 295.3v-3.0M247.95 14.45v3.0M262.28 295.3v-3.0M262.28 14.45v3.0M276.60 295.3v-6.3M276.60 14.45v6.3M290.93 295.3v-3.0M290.93 14.45v3.0M305.26 295.3v-3.0M305.26 14.45v3.0M319.58 295.3v-3.0M319.58 14.45v3.0M333.91 295.3v-3.0M333.91 14.45v3.0M348.24 295.3v-6.3M348.24 14.45v6.3M362.57 295.3v-3.0M362.57 14.45v3.0M376.89 295.3v-3.0M376.89 14.45v3.0M391.22 295.3v-3.0M391.22 14.45v3.0M405.55 295.3v-3.0M405.55 14.45v3.0M419.87 295.3v-6.3M419.87 14.45v6.3M434.20 295.3v-3.0M434.20 14.45v3.0M61.7 291.70h3.0M434.2 291.70h-3.0M61.7 288.55h3.0M434.2 288.55h-3.0M61.7 285.97h3.0M434.2 285.97h-3.0M61.7 283.80h3.0M434.2 283.80h-3.0M61.7 281.91h3.0M434.2 281.91h-3.0M61.7 280.25h3.0M434.2 280.25h-3.0M61.7 278.76h6.3M434.2 278.76h-6.3M61.7 268.97h3.0M434.2 268.97h-3.0M61.7 263.24h3.0M434.2 263.24h-3.0M61.7 259.18h3.0M434.2 259.18h-3.0M61.7 256.03h3.0M434.2 256.03h-3.0M61.7 253.45h3.0M434.2 253.45h-3.0M61.7 251.28h3.0M434.2 251.28h-3.0M61.7 249.39h3.0M434.2 249.39h-3.0M61.7 247.73h3.0M434.2 247.73h-3.0M61.7 246.24h6.3M434.2 246.24h-6.3M61.7 236.45h3.0M434.2 236.45h-3.0M61.7 230.72h3.0M434.2 230.72h-3.0M61.7 226.66h3.0M434.2 226.66h-3.0M61.7 223.51h3.0M434.2 223.51h-3.0M61.7 220.93h3.0M434.2 220.93h-3.0M61.7 218.76h3.0M434.2 218.76h-3.0M61.7 216.87h3.0M434.2 216.87h-3.0M61.7 215.21h3.0M434.2 215.21h-3.0M61.7 213.72h6.3M434.2 213.72h-6.3M61.7 203.93h3.0M434.2 203.93h-3.0M61.7 198.20h3.0M434.2 198.20h-3.0M61.7 194.14h3.0M434.2 194.14h-3.0M61.7 190.99h3.0M434.2 190.99h-3.0M61.7 188.41h3.0M434.2 188.41h-3.0M61.7 186.24h3.0M434.2 186.24h-3.0M61.7 184.35h3.0M434.2 184.35h-3.0M61.7 182.69h3.0M434.2 182.69h-3.0M61.7 181.20h6.3M434.2 181.20h-6.3M61.7 171.41h3.0M434.2 171.41h-3.0M61.7 165.68h3.0M434.2 165.68h-3.0M61.7 161.62h3.0M434.2 161.62h-3.0M61.7 158.47h3.0M434.2 158.47h-3.0M61.7 155.89h3.0M434.2 155.89h-3.0M61.7 153.72h3.0M434.2 153.72h-3.0M61.7 151.83h3.0M434.2 151.83h-3.0M61.7 150.17h3.0M434.2 150.17h-3.0M61.7 148.68h6.3M434.2 148.68h-6.3M61.7 138.89h3.0M434.2 138.89h-3.0M61.7 133.16h3.0M434.2 133.16h-3.0M61.7 129.10h3.0M434.2 129.10h-3.0M61.7 125.95h3.0M434.2 125.95h-3.0M61.7 123.37h3.0M434.2 123.37h-3.0M61.7 121.20h3.0M434.2 121.20h-3.0M61.7 119.31h3.0M434.2 119.31h-3.0M61.7 117.65h3.0M434.2 117.65h-3.0M61.7 116.16h6.3M434.2 116.16h-6.3M61.7 106.37h3.0M434.2 106.37h-3.0M61.7 100.64h3.0M434.2 100.64h-3.0M61.7 96.58h3.0M434.2 96.58h-3.0M61.7 93.43h3.0M434.2 93.43h-3.0M61.7 90.85h3.0M434.2 90.85h-3.0M61.7 88.68h3.0M434.2 88.68h-3.0M61.7 86.79h3.0M434.2 86.79h-3.0M61.7 85.13h3.0M434.2 85.13h-3.0M61.7 83.64h6.3M434.2 83.64h-6.3M61.7 73.85h3.0M434.2 73.85h-3.0M61.7 68.12h3.0M434.2 68.12h-3.0M61.7 64.06h3.0M434.2 64.06h-3.0M61.7 60.91h3.0M434.2 60.91h-3.0M61.7 58.33h3.0M434.2 58.33h-3.0M61.7 56.16h3.0M434.2 56.16h-3.0M61.7 54.27h3.0M434.2 54.27h-3.0M61.7 52.61h3.0M434.2 52.61h-3.0M61.7 51.12h6.3M434.2 51.12h-6.3M61.7 41.33h3.0M434.2 41.33h-3.0M61.7 35.60h3.0M434.2 35.60h-3.0M61.7 31.54h3.0M434.2 31.54h-3.0M61.7 28.39h3.0M434.2 28.39h-3.0M61.7 25.81h3.0M434.2 25.81h-3.0M61.7 23.64h3.0M434.2 23.64h-3.0M61.7 21.75h3.0M434.2 21.75h-3.0M61.7 20.09h3.0M434.2 20.09h-3.0M61.7 18.60h6.3M434.2 18.60h-6.3" stroke="#000" stroke-width="1.05" fill="none"/>
<text x="63.50" y="317.2" font-size="18.2" text-anchor="middle">0</text>
<text x="135.13" y="317.2" font-size="18.2" text-anchor="middle">0.5</text>
<text x="206.77" y="317.2" font-size="18.2" text-anchor="middle">1</text>
<text x="278.40" y="317.2" font-size="18.2" text-anchor="middle">1.5</text>
<text x="350.04" y="317.2" font-size="18.2" text-anchor="middle">2</text>
<text x="421.67" y="317.2" font-size="18.2" text-anchor="middle">2.5</text>
<text x="52.6" y="287.46" font-size="18.2" text-anchor="end">10<tspan font-size="15.2" dy="-9.2">-5</tspan></text>
<text x="52.6" y="254.94" font-size="18.2" text-anchor="end">10<tspan font-size="15.2" dy="-9.2">-4</tspan></text>
<text x="52.6" y="222.42" font-size="18.2" text-anchor="end">10<tspan font-size="15.2" dy="-9.2">-3</tspan></text>
<text x="52.6" y="189.90" font-size="18.2" text-anchor="end">10<tspan font-size="15.2" dy="-9.2">-2</tspan></text>
<text x="52.6" y="157.38" font-size="18.2" text-anchor="end">10<tspan font-size="15.2" dy="-9.2">-1</tspan></text>
<text x="52.6" y="124.86" font-size="18.2" text-anchor="end">10<tspan font-size="15.2" dy="-9.2">0</tspan></text>
<text x="52.6" y="92.34" font-size="18.2" text-anchor="end">10<tspan font-size="15.2" dy="-9.2">1</tspan></text>
<text x="52.6" y="59.82" font-size="18.2" text-anchor="end">10<tspan font-size="15.2" dy="-9.2">2</tspan></text>
<text x="52.6" y="27.30" font-size="18.2" text-anchor="end">10<tspan font-size="15.2" dy="-9.2">3</tspan></text>
<text x="214" y="341" font-size="22.6" textLength="73.4" lengthAdjust="spacing">q (fm<tspan font-size="18.1" dy="-10.8">-1</tspan><tspan font-size="22.6" dy="10.8">)</tspan></text>
<text transform="translate(19.0 151.2) rotate(-90)" font-size="22.6" text-anchor="middle">d&#963;/d&#937; (mb/sr)</text>
<text x="367.6" y="43.9" font-size="18.2" text-anchor="end">HO</text>
<text x="367.6" y="61.4" font-size="18.2" text-anchor="end" textLength="56.6" lengthAdjust="spacing">R<tspan font-size="14.6" dy="5.0">m</tspan><tspan font-size="18.2" dy="-5.0">=3.2</tspan></text>
<text x="367.6" y="80.5" font-size="18.2" text-anchor="end" textLength="56.6" lengthAdjust="spacing">R<tspan font-size="14.6" dy="5.0">m</tspan><tspan font-size="18.2" dy="-5.0">=3.5</tspan></text>
<path d="M376.8 38H414.8" stroke="#ff0000" stroke-width="1.45" fill="none"/>
<path d="M376.6 57H414.8" stroke="#000000" stroke-width="1.45" fill="none" stroke-dasharray="4.6 1.6"/>
<path d="M376.6 76H414.8" stroke="#0000ff" stroke-width="1.45" fill="none" stroke-dasharray="6.7 1.8 1.3 1.8"/>
<g font-weight="bold" font-style="italic" font-size="18.8" stroke="#000" stroke-width="0.45" stroke-linejoin="round">
<text transform="translate(139.8 37.2) rotate(16)" font-size="19.5">[a] (71MeV)</text>
<text transform="translate(93.4 66.6) rotate(17.6)" font-size="19.3">[b] (100MeV)/20</text>
<text transform="translate(93.5 112.5) rotate(18.4)">[c] (200MeV)/400</text>
</g>
</svg></body></html>
